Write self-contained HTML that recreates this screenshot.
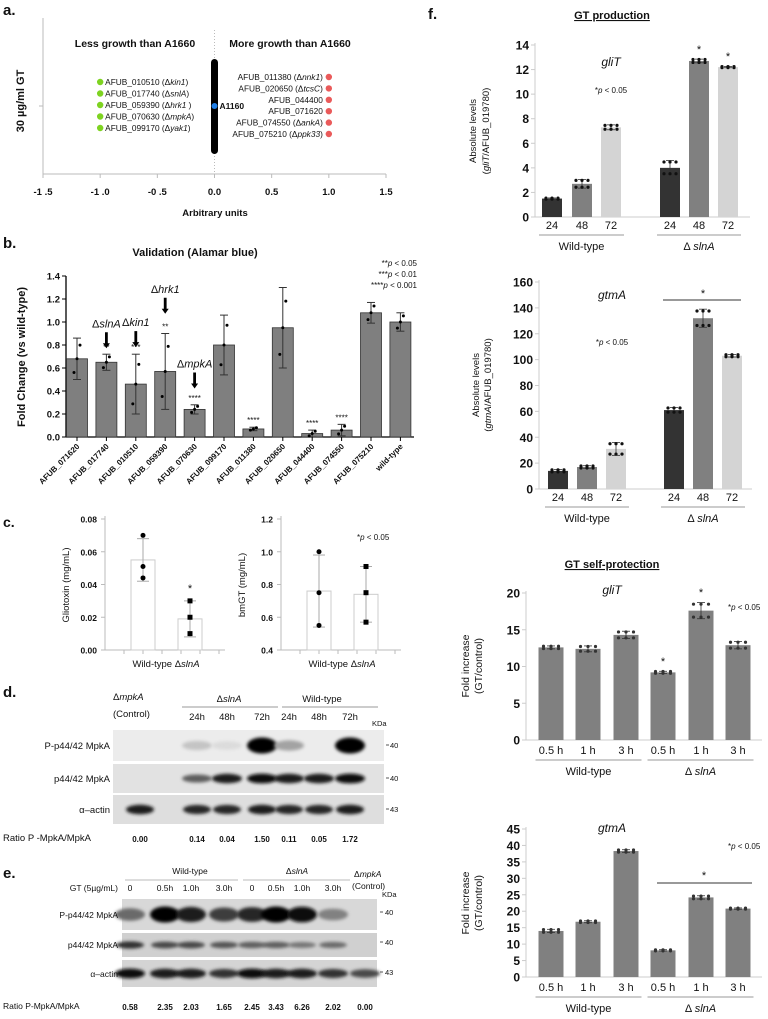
<!DOCTYPE html>
<html><head><meta charset="utf-8"><style>
html,body{margin:0;padding:0;background:#fff;}
svg{display:block;font-family:"Liberation Sans",Arial,sans-serif;}
</style></head><body>
<svg id="fig" width="768" height="1019" viewBox="0 0 768 1019" xmlns="http://www.w3.org/2000/svg">
<defs><filter id="blur" x="-50%" y="-50%" width="200%" height="200%"><feGaussianBlur stdDeviation="1.6"/></filter></defs>
<g id="root"></g>
</svg>
<script>
// ---------- DATA ----------
const aTicks = ["-1 .5","-1 .0","-0 .5","0.0","0.5","1.0","1.5"];
const aTickVals = [-1.5,-1,-0.5,0,0.5,1,1.5];
const aLess = ["AFUB_010510 (Δkin1)","AFUB_017740 (ΔsnlA)","AFUB_059390 (Δhrk1 )","AFUB_070630 (ΔmpkA)","AFUB_099170 (Δyak1)"];
const aLessX = [-1,-1,-1,-1,-1];
const aMore = ["AFUB_011380 (Δnnk1)","AFUB_020650 (ΔtcsC)","AFUB_044400","AFUB_071620","AFUB_074550 (ΔankA)","AFUB_075210 (Δppk33)"];
const aMoreX = [1,1,1,1,1,1];

const bCats = ["AFUB_071620","AFUB_017740","AFUB_010510","AFUB_059390","AFUB_070630","AFUB_099170","AFUB_011380","AFUB_020650","AFUB_044400","AFUB_074550","AFUB_075210","wild-type"];
const bVals = [0.68,0.65,0.46,0.57,0.24,0.80,0.07,0.95,0.03,0.06,1.08,1.00];
const bErr  = [0.18,0.07,0.26,0.33,0.04,0.26,0.015,0.35,0.03,0.05,0.09,0.08];
const bSig  = ["","**","***","**","****","","****","","****","****","",""];
const bTicks = [0,0.2,0.4,0.6,0.8,1.0,1.2,1.4];

const cCats = ["Wild-type","ΔslnA"];
const cGlioVals = [0.055,0.019];
const cGlioErr = [0.013,0.011];
const cGlioPts = [[0.070,0.051,0.044],[0.030,0.020,0.010]];
const cGlioTicks = [0,0.02,0.04,0.06,0.08];
const cBmVals = [0.76,0.74];
const cBmErr = [0.22,0.17];
const cBmPts = [[1.0,0.75,0.55],[0.91,0.75,0.57]];
const cBmTicks = [0.4,0.6,0.8,1.0,1.2];

const dLanes = ["","24h","48h","72h","24h","48h","72h"];
const dRatio = ["0.00","0.14","0.04","1.50","0.11","0.05","1.72"];
const dP = [0,0.15,0.05,1,0.3,0,1];
const dM = [0,0.6,0.9,0.95,0.9,0.9,0.95];
const dA = [0.9,0.85,0.85,0.9,0.85,0.85,0.9];

const eLanes = ["0","0.5h","1.0h","3.0h","0","0.5h","1.0h","3.0h",""];
const eRatio = ["0.58","2.35","2.03","1.65","2.45","3.43","6.26","2.02","0.00"];
const eP = [0.55,1,0.9,0.75,0.85,1,0.95,0.45,0];
const eM = [0.8,0.7,0.7,0.65,0.6,0.6,0.5,0.55,0];
const eA = [0.95,0.9,0.9,0.8,0.95,0.9,0.9,0.8,0.7];

const fHours = ["24","48","72","24","48","72"];
const fGliT = [1.5,2.7,7.3,4.0,12.7,12.2];
const fGliTErr = [0.05,0.35,0.2,0.6,0.15,0.05];
const fGliTTicks = [0,2,4,6,8,10,12,14];
const fGtmA = [14,17,31,61,132,103];
const fGtmAErr = [1,1,5,2,7,1];
const fGtmATicks = [0,20,40,60,80,100,120,140,160];
const gTimes = ["0.5 h","1 h","3 h","0.5 h","1 h","3 h"];
const gGliT = [12.6,12.4,14.3,9.2,17.6,12.9];
const gGliTErr = [0.2,0.4,0.5,0.15,1.1,0.5];
const gGliTTicks = [0,5,10,15,20];
const gGtmA = [14,16.8,38.3,8.1,24.2,20.8];
const gGtmAErr = [0.5,0.3,0.4,0.2,0.5,0.2];
const gGtmATicks = [0,5,10,15,20,25,30,35,40,45];

// ---------- HELPERS ----------
const NS="http://www.w3.org/2000/svg";
const root=document.getElementById('root');
function el(tag,attrs,parent,txt){const e=document.createElementNS(NS,tag);for(const k in attrs)e.setAttribute(k,attrs[k]);if(txt!==undefined)e.textContent=txt;(parent||root).appendChild(e);return e;}
function grp(name,parent){const g=el('g',{},parent);return g;}
function txt(p,x,y,s,o){o=o||{};const t=el('text',{x:x,y:y,'font-size':o.fs||10,'text-anchor':o.a||'start',fill:o.c||'#111','font-weight':o.b?'bold':'normal','font-style':o.i?'italic':'normal'},p);t.innerHTML=s;if(o.rot)t.setAttribute('transform','rotate('+o.rot+' '+x+' '+y+')');if(o.u)t.setAttribute('text-decoration','underline');return t;}
function scale(d0,d1,r0,r1){return v=>r0+(v-d0)*(r1-r0)/(d1-d0);}

// ---------- PANEL A ----------
(function(){
 const g=grp('panel-a');
 txt(g,3,15,'a.',{fs:15,b:true});
 const x=scale(-1.5,1.5,43,386);
 el('line',{x1:43,y1:18,x2:43,y2:174,stroke:'#bbb'},g);
 el('line',{x1:43,y1:174,x2:386,y2:174,stroke:'#bbb'},g);
 el('line',{x1:39,y1:106,x2:43,y2:106,stroke:'#bbb'},g);
 el('line',{x1:x(0),y1:30,x2:x(0),y2:174,stroke:'#bbb','stroke-dasharray':'1,2'},g);
 aTickVals.forEach((v,i)=>{el('line',{x1:x(v),y1:174,x2:x(v),y2:178,stroke:'#bbb'},g);const t=txt(g,x(v),195,aTicks[i],{a:'middle',b:true,fs:9.5});});
 const xt=txt(g,215,216,'Arbitrary units',{a:'middle',b:true,fs:9.5});
 const yt=txt(g,24,101,'30 µg/ml GT',{a:'middle',b:true,fs:11,rot:-90});
 txt(g,135,47,'Less growth than  A1660',{a:'middle',b:true,fs:10.5});
 txt(g,290,47,'More growth than  A1660',{a:'middle',b:true,fs:10.5});
 el('rect',{x:x(0)-3.5,y:59,width:7,height:95,rx:3.5,fill:'#000'},g);
 const bd=el('circle',{cx:x(0),cy:106,r:3,fill:'#1f7fe8'},g);
 txt(g,x(0)+5,109,'A1160',{b:true,fs:8.5});
 aLess.forEach((s,i)=>{const y=82+i*11.5;const c=el('circle',{cx:x(aLessX[i]),cy:y,r:3.2,fill:'#7ed321'},g);txt(g,x(aLessX[i])+5,y+3,s.replace(/Δ(\w+)/,'Δ<tspan font-style="italic">$1</tspan>'),{fs:8.3});});
 aMore.forEach((s,i)=>{const y=77+i*11.4;const c=el('circle',{cx:x(aMoreX[i]),cy:y,r:3.2,fill:'#ea5a5a'},g);txt(g,x(aMoreX[i])-6,y+3,s.replace(/Δ(\w+)/,'Δ<tspan font-style="italic">$1</tspan>'),{fs:8.3,a:'end'});});
})();

// ---------- PANEL B ----------
(function(){
 const g=grp('panel-b');
 txt(g,3,248,'b.',{fs:15,b:true});
 txt(g,195,256,'Validation (Alamar blue)',{a:'middle',b:true,fs:11});
 const y=scale(0,1.4,437,276);
 const x0=77,dx=29.4;
 el('line',{x1:66,y1:276,x2:66,y2:437,stroke:'#000','stroke-width':1.3},g);
 el('line',{x1:66,y1:437,x2:414,y2:437,stroke:'#000','stroke-width':1.3},g);
 bTicks.forEach(v=>{el('line',{x1:62,y1:y(v),x2:66,y2:y(v),stroke:'#000'},g);txt(g,60,y(v)+3.5,v.toFixed(1),{a:'end',b:true,fs:9.5});});
 txt(g,25,357,'Fold Change (vs wild-type)',{a:'middle',b:true,fs:11,rot:-90});
 bCats.forEach((c,i)=>{const cx=x0+i*dx;
  const r=el('rect',{x:cx-10.5,y:y(bVals[i]),width:21,height:437-y(bVals[i]),fill:'#7f7f7f',stroke:'#333','stroke-width':0.8},g);
  
  const t=y(bVals[i]+bErr[i]),bo=y(Math.max(0,bVals[i]-bErr[i]));
  el('line',{x1:cx,y1:t,x2:cx,y2:bo,stroke:'#333'},g);el('line',{x1:cx-4,y1:t,x2:cx+4,y2:t,stroke:'#333'},g);el('line',{x1:cx-4,y1:bo,x2:cx+4,y2:bo,stroke:'#333'},g);
  [-0.6,0,0.6].forEach((k,j)=>el('circle',{cx:cx+(j-1)*3,cy:y(Math.max(0,bVals[i]+k*bErr[i]*1.1)),r:1.5,fill:'#000'},g));
  if(bSig[i])txt(g,cx,t-4,bSig[i],{a:'middle',fs:8});
  el('line',{x1:cx,y1:437,x2:cx,y2:441,stroke:'#000'},g);
  txt(g,cx+3,447,c,{a:'end',fs:8,b:true,rot:-45});
 });
 [['slnA',1,0.85],['kin1',2,0.86],['hrk1',3,1.15],['mpkA',4,0.50]].forEach(a=>{const cx=x0+a[1]*dx,yy=y(a[2]);
  txt(g,cx,yy-12,'Δ<tspan font-style="italic">'+a[0]+'</tspan>',{a:'middle',fs:11});
  el('line',{x1:cx,y1:yy-7,x2:cx,y2:yy+6,stroke:'#000','stroke-width':2.8},g);el('path',{d:`M${cx-3.5},${yy+4}L${cx+3.5},${yy+4}L${cx},${yy+9}Z`,fill:'#000'},g);});
 txt(g,417,266,'**<tspan font-style="italic">p</tspan> &lt; 0.05',{a:'end',fs:8});
 txt(g,417,277,'***<tspan font-style="italic">p</tspan> &lt; 0.01',{a:'end',fs:8});
 txt(g,417,288,'****<tspan font-style="italic">p</tspan> &lt; 0.001',{a:'end',fs:8});
})();

// ---------- PANEL C ----------
function cChart(name,ax,ticks,dec,vals,err,pts,ttl,sq){
 const g=grp(name);
 const y=scale(ticks[0],ticks[ticks.length-1],650,519);
 el('line',{x1:ax,y1:516,x2:ax,y2:650,stroke:'#bbb'},g);
 el('line',{x1:ax,y1:650,x2:ax+120,y2:650,stroke:'#bbb'},g);
 for(let k=1;k<7;k++)el('line',{x1:ax+k*19,y1:650,x2:ax+k*19,y2:654,stroke:'#bbb'},g);
 ticks.forEach(v=>{el('line',{x1:ax-4,y1:y(v),x2:ax,y2:y(v),stroke:'#bbb'},g);txt(g,ax-8,y(v)+3.5,v.toFixed(dec),{a:'end',b:true,fs:8.5});});
 txt(g,ax-36,585,ttl,{a:'middle',fs:9.5,rot:-90});
 vals.forEach((v,i)=>{const cx=ax+38+i*47;
  const r=el('rect',{x:cx-12,y:y(v),width:24,height:650-y(v),fill:'#fff',stroke:'#ccc'},g);
  const t=y(v+err[i]),b=y(v-err[i]);
  el('line',{x1:cx,y1:t,x2:cx,y2:b,stroke:'#aaa'},g);el('line',{x1:cx-6,y1:t,x2:cx+6,y2:t,stroke:'#aaa'},g);el('line',{x1:cx-6,y1:b,x2:cx+6,y2:b,stroke:'#aaa'},g);
  pts[i].forEach(p=>{if(sq&&i==1)el('rect',{x:cx-2.5,y:y(p)-2.5,width:5,height:5,fill:'#000'},g);else el('circle',{cx:cx,cy:y(p),r:2.5,fill:'#000'},g);});
 });
 txt(g,ax+61,667,'Wild-type Δ<tspan font-style="italic">slnA</tspan>',{a:'middle',fs:9.5});
 return {g,y};
}
(function(){
 txt(root,3,527,'c.',{fs:14,b:true});
 const a=cChart('panel-c-gliotoxin',105,cGlioTicks,2,cGlioVals,cGlioErr,cGlioPts,'Gliotoxin (mg/mL)',true);
 txt(a.g,190,592,'*',{a:'middle',fs:11});
 const b=cChart('panel-c-bmgt',281,cBmTicks,1,cBmVals,cBmErr,cBmPts,'bmGT (mg/mL)',true);
 txt(b.g,357,540,'*<tspan font-style="italic">p</tspan> &lt; 0.05',{fs:8});
})();

// ---------- BLOTS ----------
function blotRow(g,x0,x1,y0,h,lanes,ints,bw,bh,name,bg){
 const r=el('rect',{x:x0,y:y0,width:x1-x0,height:h,fill:bg||'#e6e6e6'},g);
 lanes.forEach((lx,i)=>{if(ints[i]>0){const c=Math.round(230-ints[i]*225);el('ellipse',{cx:lx,cy:y0+h/2,rx:bw/2,ry:bh*(0.5+ints[i]*0.5),fill:`rgb(${c},${c},${c})`,filter:'url(#blur)'},g);}});
}
(function(){
 const g=grp('panel-d');
 txt(g,3,697,'d.',{fs:15,b:true});
 const lx=[140,197,227,262,289,319,350];
 txt(g,113,700,'Δ<tspan font-style="italic">mpkA</tspan>',{fs:9.5});
 txt(g,113,717,'(Control)',{fs:9.5});
 txt(g,229,702,'Δ<tspan font-style="italic">slnA</tspan>',{a:'middle',fs:9.5});
 txt(g,322,702,'Wild-type',{a:'middle',fs:9.5});
 el('line',{x1:182,y1:707,x2:278,y2:707,stroke:'#999'},g);el('line',{x1:282,y1:707,x2:378,y2:707,stroke:'#999'},g);
 dLanes.forEach((s,i)=>{if(s)txt(g,lx[i],720,s,{a:'middle',fs:9.5});});
 txt(g,372,726,'KDa',{fs:7.5});
 blotRow(g,113,384,730,31,lx,dP,30,8,'blot-phospho-mpka','#ececec');
 blotRow(g,113,384,764,29,lx,dM,30,5,'blot-total-mpka','#e2e2e2');
 blotRow(g,113,384,795,29,lx,dA,28,5,'blot-actin','#dedede');
 txt(g,110,749,'P-p44/42  MpkA',{a:'end',fs:9.5});
 txt(g,110,782,'p44/42  MpkA',{a:'end',fs:9.5});
 txt(g,110,813,'α–actin',{a:'end',fs:9.5});
 [[745,'40'],[778,'40'],[809,'43']].forEach(k=>{el('line',{x1:386,y1:k[0],x2:389,y2:k[0],stroke:'#555'},g);txt(g,390,k[0]+3,k[1],{fs:7.5});});
 txt(g,3,841,'Ratio P -MpkA/MpkA',{fs:9.5});
 dRatio.forEach((s,i)=>txt(g,lx[i],842,s,{a:'middle',b:true,fs:8}));
})();
(function(){
 const g=grp('panel-e');
 txt(g,3,878,'e.',{fs:15,b:true});
 const lx=[130,165,191,224,252,276,302,333,365];
 txt(g,190,874,'Wild-type',{a:'middle',fs:8.5});
 txt(g,297,874,'Δ<tspan font-style="italic">slnA</tspan>',{a:'middle',fs:8.5});
 el('line',{x1:125,y1:880,x2:238,y2:880,stroke:'#bbb'},g);el('line',{x1:243,y1:880,x2:350,y2:880,stroke:'#bbb'},g);
 txt(g,354,877,'Δ<tspan font-style="italic">mpkA</tspan>',{fs:8.5});
 txt(g,352,889,'(Control)',{fs:8.5});
 txt(g,118,891,'GT (5µg/mL)',{a:'end',fs:8.5});
 eLanes.forEach((s,i)=>{if(s)txt(g,lx[i],891,s,{a:'middle',fs:8.5});});
 txt(g,382,897,'KDa',{fs:7.5});
 blotRow(g,122,377,899,31,lx,eP,30,8,'blot-e-phospho-mpka','#d8d8d8');
 blotRow(g,122,377,933,24,lx,eM,28,4,'blot-e-total-mpka','#d0d0d0');
 blotRow(g,122,377,960,27,lx,eA,30,5,'blot-e-actin','#d4d4d4');
 txt(g,118,918,'P-p44/42 MpkA',{a:'end',fs:8.5});
 txt(g,118,948,'p44/42 MpkA',{a:'end',fs:8.5});
 txt(g,118,977,'α–actin',{a:'end',fs:8.5});
 [[912,'40'],[942,'40'],[972,'43']].forEach(k=>{el('line',{x1:380,y1:k[0],x2:383,y2:k[0],stroke:'#555'},g);txt(g,385,k[0]+3,k[1],{fs:7.5});});
 txt(g,3,1009,'Ratio P-MpkA/MpkA',{fs:8.5});
 eRatio.forEach((s,i)=>txt(g,lx[i],1010,s,{a:'middle',b:true,fs:8}));
})();

// ---------- PANEL F ----------
function fChart(name,o){
 const g=grp(name);
 const y=scale(o.ticks[0],o.ticks[o.ticks.length-1],o.y0,o.y1);
 el('line',{x1:o.ax,y1:o.y1-2,x2:o.ax,y2:o.y0,stroke:'#ccc'},g);
 el('line',{x1:o.ax,y1:o.y0,x2:o.xe,y2:o.y0,stroke:'#ccc'},g);
 o.ticks.forEach(v=>{el('line',{x1:o.ax-4,y1:y(v),x2:o.ax,y2:y(v),stroke:'#ccc'},g);txt(g,o.ax-6,y(v)+4.5,String(v),{a:'end',b:true,fs:o.tfs||12});});
 o.vals.forEach((v,i)=>{const cx=o.xs[i];
  const r=el('rect',{x:cx-o.bw/2,y:y(v),width:o.bw,height:o.y0-y(v),fill:o.cols[i]},g);
  const t=y(v+o.err[i]),b=y(v-o.err[i]);
  el('line',{x1:cx,y1:t,x2:cx,y2:b,stroke:'#333','stroke-width':0.8},g);el('line',{x1:cx-4,y1:t,x2:cx+4,y2:t,stroke:'#333','stroke-width':0.8},g);el('line',{x1:cx-4,y1:b,x2:cx+4,y2:b,stroke:'#333','stroke-width':0.8},g);
  for(let k=0;k<6;k++){const dy=(k<3?-1:1)*o.err[i]*0.8;el('circle',{cx:cx-o.bw*0.3+(k%3)*o.bw*0.3,cy:y(v+dy),r:1.6,fill:o.dot||'#111'},g);}
 });
 o.labels.forEach((s,i)=>txt(g,o.xs[i],o.y0+o.lo,s,{a:'middle',fs:o.lfs||11}));
 const gx1=(o.xs[0]+o.xs[2])/2,gx2=(o.xs[3]+o.xs[5])/2;
 el('line',{x1:o.xs[0]-o.bw/2-3,y1:o.y0+o.lo+6,x2:o.xs[2]+o.bw/2+3,y2:o.y0+o.lo+6,stroke:'#999'},g);
 el('line',{x1:o.xs[3]-o.bw/2-3,y1:o.y0+o.lo+6,x2:o.xs[5]+o.bw/2+3,y2:o.y0+o.lo+6,stroke:'#999'},g);
 txt(g,gx1,o.y0+o.lo+21,'Wild-type',{a:'middle',fs:11});
 txt(g,gx2,o.y0+o.lo+21,'Δ <tspan font-style="italic">slnA</tspan>',{a:'middle',fs:11});
 return {g,y};
}
(function(){
 txt(root,428,19,'f.',{fs:15,b:true});
 txt(root,612,19,'GT production',{a:'middle',b:true,fs:11,u:true});
 const c3=['#333','#808080','#d4d4d4','#333','#808080','#d4d4d4'];
 const xsA=[552,582,611,670,699,728];
 const a=fChart('panel-f-glit',{ax:535,xe:750,y0:217,y1:45,ticks:fGliTTicks,vals:fGliT,err:fGliTErr,xs:xsA,bw:20,cols:c3,labels:fHours,lo:12});
 txt(a.g,611,66,'gliT',{a:'middle',i:true,fs:12});
 txt(a.g,611,93,'*<tspan font-style="italic">p</tspan> &lt; 0.05',{a:'middle',fs:8});
 txt(a.g,699,53,'*',{a:'middle',fs:11});txt(a.g,728,60,'*',{a:'middle',fs:11});
 txt(a.g,476,131,'Absolute levels',{a:'middle',fs:9.5,rot:-90});
 txt(a.g,489,131,'(<tspan font-style="italic">gliT</tspan>/AFUB_019780)',{a:'middle',fs:9.5,rot:-90});
 const xsB=[558,587,616,674,703,732];
 const b=fChart('panel-f-gtma',{ax:539,xe:752,y0:489,y1:282,ticks:fGtmATicks,vals:fGtmA,err:fGtmAErr,xs:xsB,bw:20,cols:c3,labels:fHours,lo:12});
 txt(b.g,612,299,'gtmA',{a:'middle',i:true,fs:12});
 txt(b.g,612,345,'*<tspan font-style="italic">p</tspan> &lt; 0.05',{a:'middle',fs:8});
 el('line',{x1:663,y1:300,x2:741,y2:300,stroke:'#333'},b.g);txt(b.g,703,297,'*',{a:'middle',fs:11});
 txt(b.g,479,385,'Absolute levels',{a:'middle',fs:9.5,rot:-90});
 txt(b.g,491,385,'(<tspan font-style="italic">gtmA</tspan>/AFUB_019780)',{a:'middle',fs:9.5,rot:-90});

 txt(root,612,568,'GT self-protection',{a:'middle',b:true,fs:11,u:true});
 const gc=Array(6).fill('#808080');
 const xsG=[551,588,626,663,701,738];
 const c=fChart('panel-f-self-glit',{ax:526,xe:762,y0:740,y1:593,ticks:gGliTTicks,vals:gGliT,err:gGliTErr,xs:xsG,bw:25,cols:gc,labels:gTimes,lo:14,dot:'#333'});
 txt(c.g,612,594,'gliT',{a:'middle',i:true,fs:12});
 txt(c.g,663,665,'*',{a:'middle',fs:11});txt(c.g,701,596,'*',{a:'middle',fs:11});
 txt(c.g,728,610,'*<tspan font-style="italic">p</tspan> &lt; 0.05',{fs:8});
 txt(c.g,469,666,'Fold increase',{a:'middle',fs:10.5,rot:-90});
 txt(c.g,482,666,'(GT/control)',{a:'middle',fs:10.5,rot:-90});
 const d=fChart('panel-f-self-gtma',{ax:526,xe:762,y0:977,y1:829,ticks:gGtmATicks,vals:gGtmA,err:gGtmAErr,xs:xsG,bw:25,cols:gc,labels:gTimes,lo:14,dot:'#333'});
 txt(d.g,612,832,'gtmA',{a:'middle',i:true,fs:12});
 txt(d.g,728,849,'*<tspan font-style="italic">p</tspan> &lt; 0.05',{fs:8});
 el('line',{x1:657,y1:883,x2:752,y2:883,stroke:'#333'},d.g);txt(d.g,704,879,'*',{a:'middle',fs:11});
 txt(d.g,469,903,'Fold increase',{a:'middle',fs:10.5,rot:-90});
 txt(d.g,482,903,'(GT/control)',{a:'middle',fs:10.5,rot:-90});
})();
</script>
</body></html>
